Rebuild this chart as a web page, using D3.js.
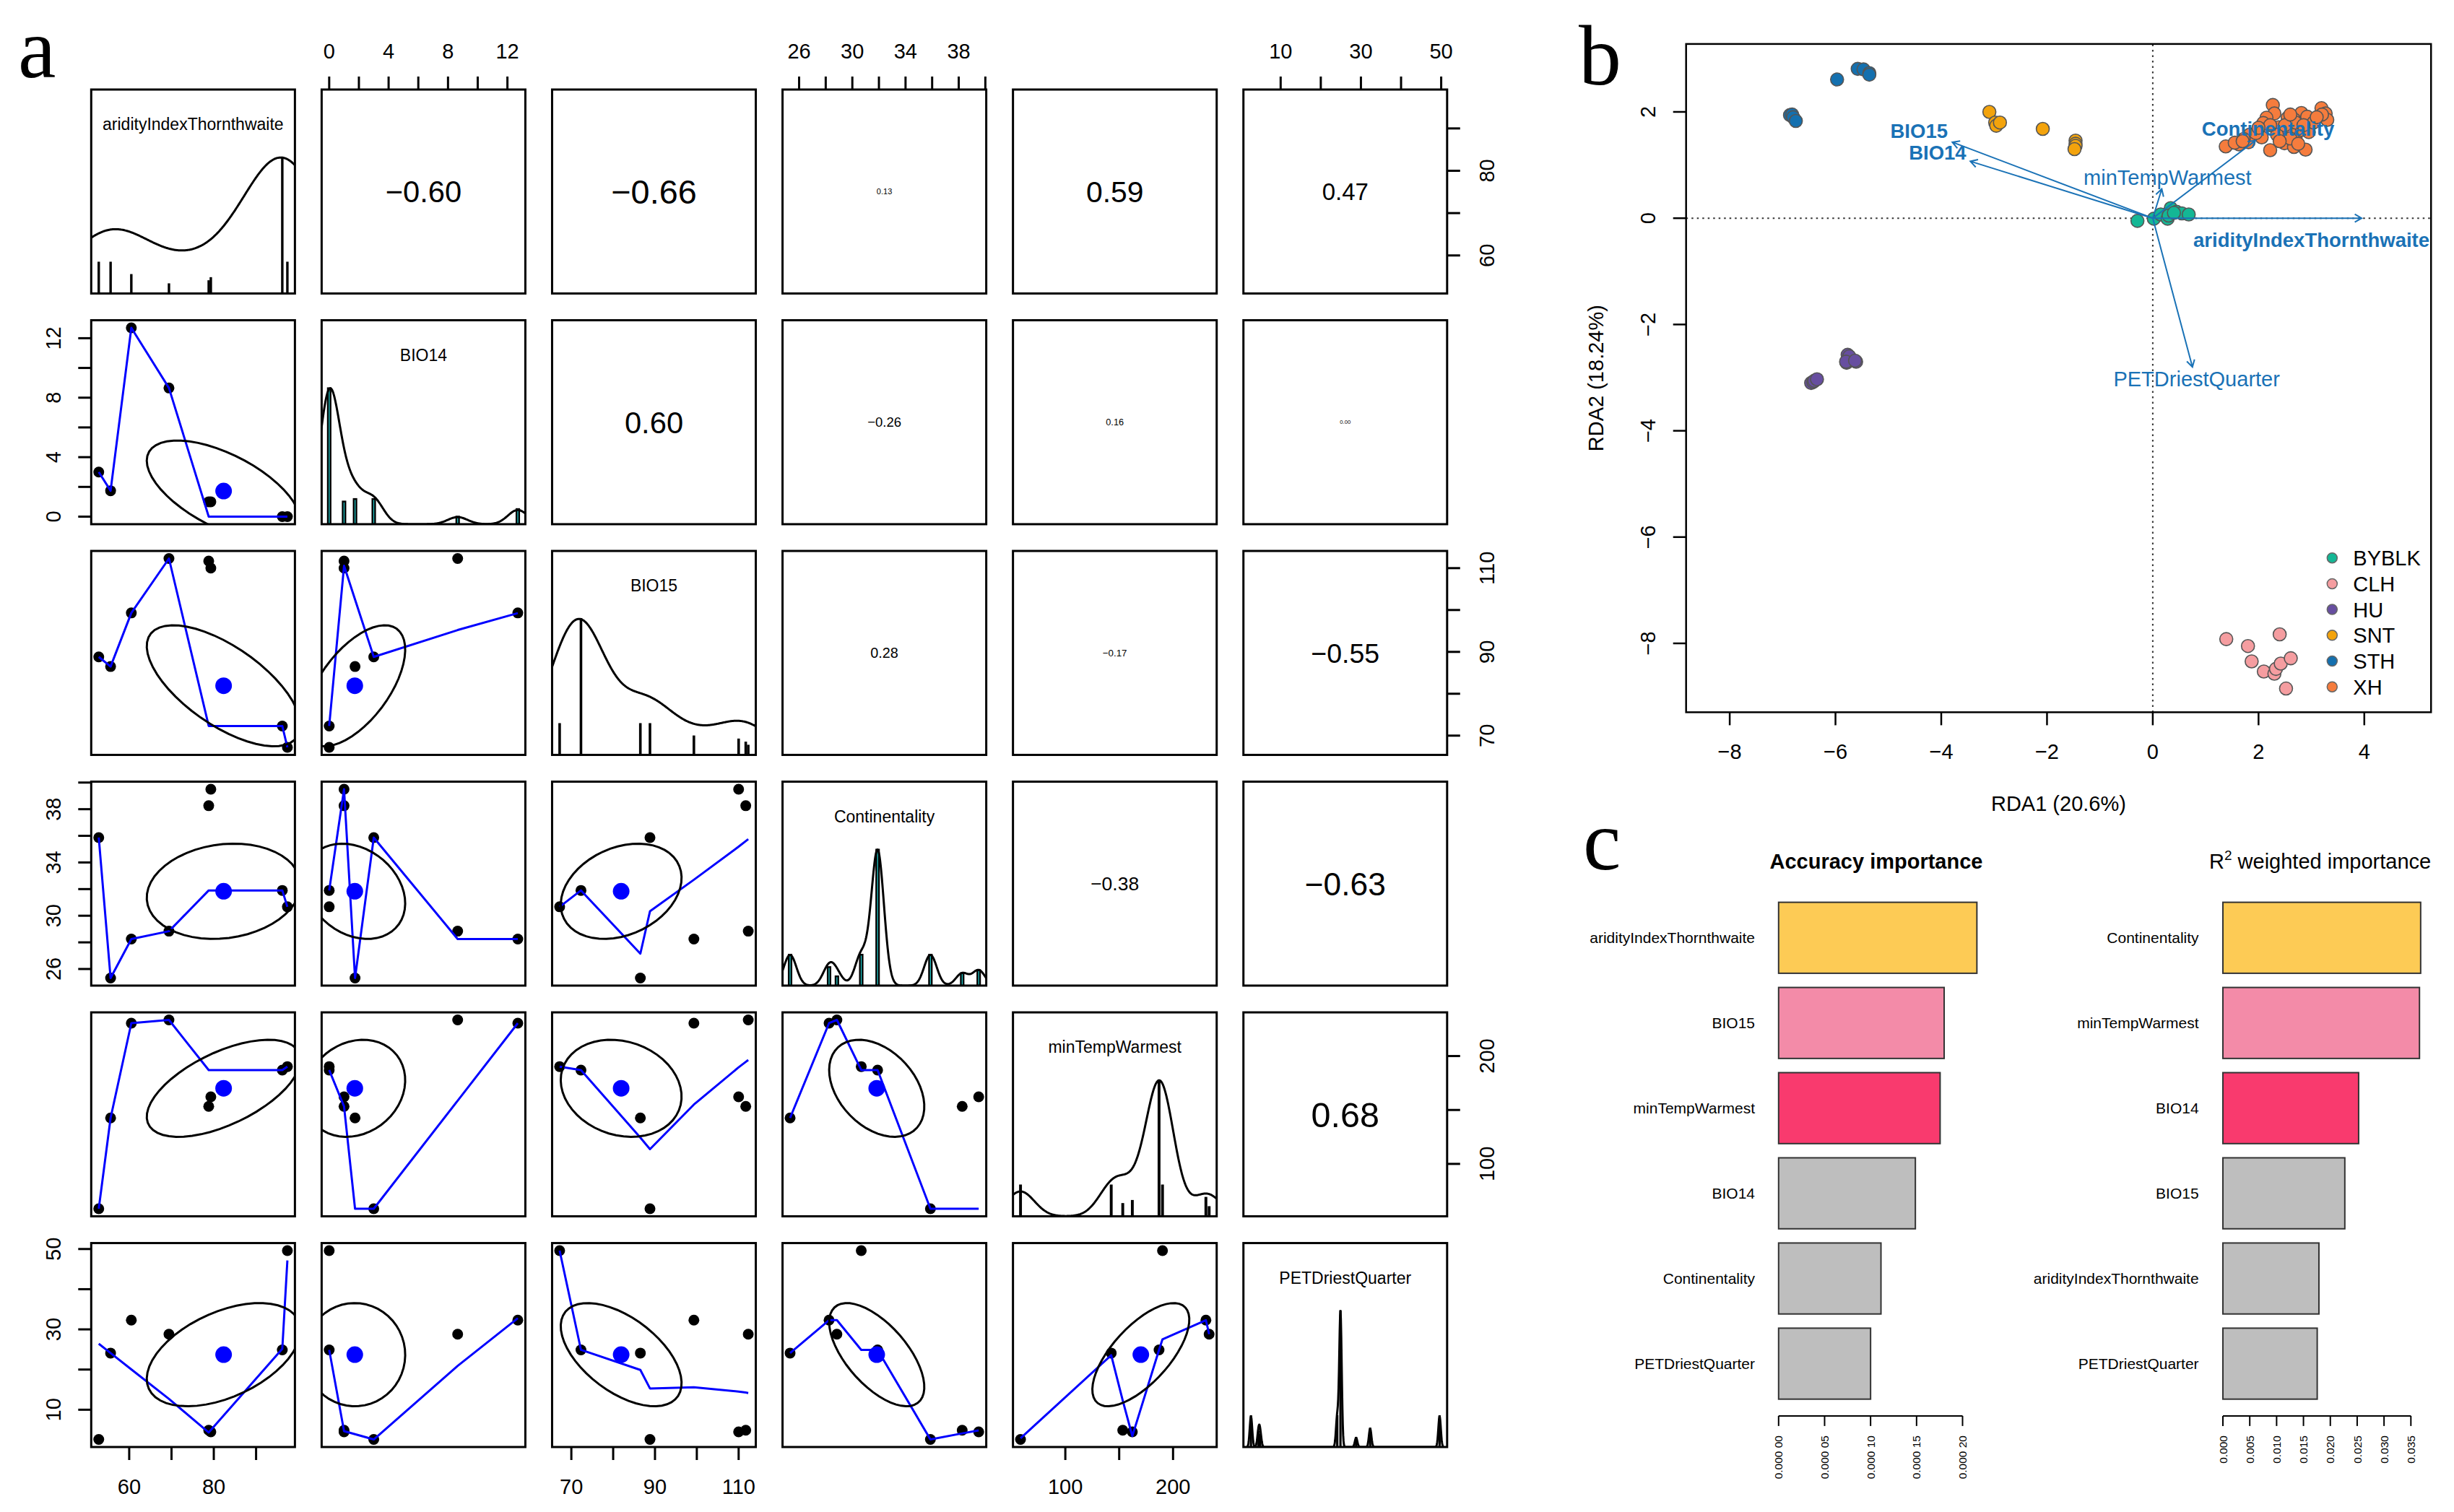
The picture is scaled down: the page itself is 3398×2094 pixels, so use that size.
<!DOCTYPE html>
<html><head><meta charset="utf-8">
<script src="https://cdn.jsdelivr.net/npm/d3@7"></script>
<style>
html,body{margin:0;padding:0;background:#fff;}
svg{display:block;}
text{font-family:"Liberation Sans",Arial,Helvetica,sans-serif;fill:#000;}
</style>
</head><body>
<svg id="fig" width="3398" height="2094"></svg>
<script>
// ================= DATA =================
// Panel a: environmental values of the 8 sampling sites and number of individuals per site
const siteIds = ["s1","s2","s3","s4","s5","s6","s7","s8"];
const siteCounts = [10, 10, 6, 3, 4, 5, 44, 10];
const aridityIndexThornthwaite = [52.8, 55.6, 60.5, 69.4, 78.8, 79.3, 96.2, 97.4];
const BIO14 = [3.0, 1.74, 12.7, 8.65, 1.0, 1.0, 0, 0];
const BIO15 = [88.8, 86.5, 99.3, 112.3, 111.7, 110.0, 72.3, 67.2];
const Continentality = [35.87, 25.32, 28.25, 28.84, 38.26, 39.5, 31.9, 30.67];
const minTempWarmest = [58.4, 142.6, 230.5, 233.5, 153.3, 162.2, 187.0, 190.2];
const PETDriestQuarter = [2.6, 24.1, 32.3, 28.8, 4.9, 4.5, 24.9, 49.6];
const varNames = ["aridityIndexThornthwaite","BIO14","BIO15","Continentality","minTempWarmest","PETDriestQuarter"];
// smoother of Continentality on BIO14 (per site)
const smoothReadBIO14Continentality = [35.87, 25.32, 28.25, 28.25, 39.5, 39.5, 31.9, 31.9];
// correlations shown in the upper panels (row, col, value)
const corRows = [0,0,0,0,0,1,1,1,1,2,2,2,3,3,4];
const corCols = [1,2,3,4,5,2,3,4,5,3,4,5,4,5,5];
const corValues = [-0.60,-0.66,0.13,0.59,0.47,0.60,-0.26,0.16,0.00,0.28,-0.17,-0.55,-0.38,-0.63,0.68];

// Panel b: RDA site scores per population
const popNames = ["BYBLK","CLH","HU","SNT","STH","XH"];
const popColors = ["#14B795","#F59DA0","#674EA0","#F3A30C","#1470AF","#F57C3D"];
const rdaBYBLK = [[-0.29,-0.05],[0.02,-0.01],[0.15,0.07],[0.28,-0.01],[0.34,0.19],[0.45,0.12],[0.55,0.09],[0.68,0.07],[0.30,0.05],[0.40,0.10]];
const rdaCLH = [[1.39,-7.92],[1.80,-8.05],[1.87,-8.34],[2.10,-8.53],[2.30,-8.57],[2.33,-8.48],[2.40,-7.83],[2.42,-8.38],[2.61,-8.28],[2.52,-8.85]];
const rdaHU = [[-6.46,-3.10],[-6.42,-3.08],[-6.40,-3.06],[-6.35,-3.03],[-5.77,-2.57],[-5.74,-2.60],[-5.79,-2.72],[-5.80,-2.70],[-5.61,-2.70],[-5.63,-2.68]];
const rdaSNT = [[-3.09,2.00],[-2.98,1.80],[-2.96,1.74],[-2.89,1.80],[-2.08,1.68],[-1.46,1.46],[-1.46,1.40],[-1.46,1.36],[-1.48,1.30]];
const rdaSTH = [[-6.86,1.94],[-6.82,1.95],[-6.80,1.90],[-6.75,1.83],[-5.97,2.61],[-5.58,2.81],[-5.47,2.80],[-5.36,2.73],[-5.36,2.70]];
const rdaXH = [[2.27,2.13],[2.30,1.97],[3.19,2.07],[3.27,1.97],[3.30,1.85],[2.81,1.98],[2.92,1.91],[2.67,1.86],[2.55,1.89],[2.15,1.89],
  [2.09,1.79],[2.05,1.64],[2.06,1.52],[1.83,1.57],[1.81,1.43],[1.63,1.39],[1.38,1.35],[1.72,1.49],[2.22,1.28],[2.38,1.71],
  [2.45,1.57],[2.49,1.41],[2.67,1.34],[2.89,1.29],[2.70,1.52],[2.81,1.66],[2.95,1.62],[3.04,1.80],[2.58,1.66],[2.35,1.57],
  [2.22,1.75],[2.70,1.80],[1.55,1.42],[1.95,1.60],[2.60,1.50],[2.40,1.45],[3.20,1.95],[2.85,1.75],[2.50,1.75],[2.00,1.70],
  [1.70,1.45],[2.75,1.40],[3.10,1.90],[2.60,1.95]];
// biplot arrows (end point) and label anchors
const arrowNames = ["aridityIndexThornthwaite","Continentality","minTempWarmest","PETDriestQuarter","BIO15","BIO14"];
const arrowEnds = [[3.95,0.0],[1.94,1.46],[0.17,0.55],[0.75,-2.80],[-3.79,1.43],[-3.45,1.07]];
const arrowLabelAt = [[3.0,-0.41],[2.18,1.68],[0.28,0.77],[0.83,-3.02],[-4.42,1.64],[-4.07,1.24]];
const arrowBold = [true,true,false,false,true,true];
const rdaXTicks = [-8,-6,-4,-2,0,2,4];
const rdaYTicks = [-8,-6,-4,-2,0,2];

// Panel c: importance barplots
const accVars = ["aridityIndexThornthwaite","BIO15","minTempWarmest","BIO14","Continentality","PETDriestQuarter"];
const accValues = [0.0002156, 0.0001800, 0.0001756, 0.0001487, 0.0001113, 0.0001000];
const r2Vars = ["Continentality","minTempWarmest","BIO14","BIO15","aridityIndexThornthwaite","PETDriestQuarter"];
const r2Values = [0.03682, 0.03660, 0.02527, 0.02270, 0.01788, 0.01756];
const barColors = ["#FDCB55","#F38BA8","#F93A6E","#BEBEBE","#BEBEBE","#BEBEBE"];
const accTicks = [0, 0.00005, 0.0001, 0.00015, 0.0002];
const accTickLabels = ["0.000 00","0.000 05","0.000 10","0.000 15","0.000 20"];
const r2Ticks = [0, 0.005, 0.010, 0.015, 0.020, 0.025, 0.030, 0.035];
const r2TickLabels = ["0.000","0.005","0.010","0.015","0.020","0.025","0.030","0.035"];

// ================= HELPERS =================
const svg = d3.select("#fig");
svg.append("rect").attr("width",3398).attr("height",2094).attr("fill","#fff");
const defs = svg.append("defs");
const MINUS = "\u2212";
const fmtNum = v => (v < 0 ? MINUS : "") + Math.abs(v);
const fcube = v => v*v*v, fsquare = v => v*v;

// R: density(x, bw = "nrd", adjust = 1.2)
function bwNrdAdj(v, adjust){
  const s = v.slice().sort(d3.ascending);
  const sd = d3.deviation(s);
  const h = (d3.quantileSorted(s,0.75) - d3.quantileSorted(s,0.25))/1.34;
  return adjust*1.06*Math.min(sd, h)*Math.pow(s.length,-0.2);
}
function lowest(x,y,n,xs,nleft,nright,w,userw,rw){
  const range = x[n-1]-x[0];
  const h = Math.max(xs-x[nleft], x[nright]-xs);
  const h9 = 0.999*h, h1 = 0.001*h;
  let a = 0, j = nleft;
  while (j < n){
    w[j] = 0;
    const r = Math.abs(x[j]-xs);
    if (r <= h9){
      if (r <= h1) w[j] = 1; else w[j] = fcube(1-fcube(r/h));
      if (userw) w[j] *= rw[j];
      a += w[j];
    } else if (x[j] > xs) break;
    j++;
  }
  const nrt = j-1;
  if (a <= 0) return null;
  for (j=nleft;j<=nrt;j++) w[j] /= a;
  if (h > 0){
    a = 0;
    for (j=nleft;j<=nrt;j++) a += w[j]*x[j];
    let b = xs - a, c = 0;
    for (j=nleft;j<=nrt;j++) c += w[j]*(x[j]-a)*(x[j]-a);
    if (Math.sqrt(c) > 0.001*range){
      b /= c;
      for (j=nleft;j<=nrt;j++) w[j] *= (b*(x[j]-a)+1);
    }
  }
  let ys = 0;
  for (j=nleft;j<=nrt;j++) ys += w[j]*y[j];
  return ys;
}
// port of R's clowess (stats::lowess)
function clowess(x,y,f,nsteps,delta){
  const n = x.length;
  const ys = new Array(n).fill(0), rw = new Array(n).fill(0), res = new Array(n).fill(0);
  const ns = Math.max(2, Math.min(n, Math.floor(f*n+1e-7)));
  let iter = 1;
  while (iter <= nsteps+1){
    let nleft = 0, nright = ns-1, last = -1, i = 0;
    for(;;){
      if (nright < n-1){
        const d1 = x[i]-x[nleft], d2 = x[nright+1]-x[i];
        if (d1 > d2){ nleft++; nright++; continue; }
      }
      const v = lowest(x,y,n,x[i],nleft,nright,res,iter>1,rw);
      ys[i] = (v === null) ? y[i] : v;
      if (last < i-1){
        const denom = x[i]-x[last];
        for (let j=last+1;j<i;j++){ const al=(x[j]-x[last])/denom; ys[j]=al*ys[i]+(1-al)*ys[last]; }
      }
      last = i;
      const cut = x[last]+delta;
      for (i=last+1;i<n;i++){
        if (x[i] > cut) break;
        if (x[i] === x[last]){ ys[i] = ys[last]; last = i; }
      }
      i = Math.max(last+1, i-1);
      if (last >= n-1) break;
    }
    for (let k=0;k<n;k++) res[k] = y[k]-ys[k];
    let sc = 0; for (let k=0;k<n;k++) sc += Math.abs(res[k]); sc /= n;
    if (iter > nsteps) break;
    const srt = res.map(Math.abs).sort((a,b)=>a-b);
    const m1 = Math.floor(n/2);
    const cmad = (n%2===0) ? 3*(srt[m1]+srt[n-m1-1]) : 6*srt[m1];
    if (cmad < 1e-7*sc) break;
    const c9 = 0.999*cmad, c1 = 0.001*cmad;
    for (let k=0;k<n;k++){
      const r = Math.abs(res[k]);
      rw[k] = r<=c1 ? 1 : (r<=c9 ? fsquare(1-fsquare(r/cmad)) : 0);
    }
    iter++;
  }
  return ys;
}

// ================= PANEL A =================
const siteValues = [aridityIndexThornthwaite, BIO14, BIO15, Continentality, minTempWarmest, PETDriestQuarter];
const readSmoothers = {"3-1": smoothReadBIO14Continentality};
const expand = arr => arr.flatMap((v,i)=>d3.range(siteCounts[i]).map(()=>v));
const indiv = siteValues.map(expand);
const domains = indiv.map(v=>{const e=d3.extent(v); const p=0.04*(e[1]-e[0]); return [e[0]-p,e[1]+p];});
const colBand = d3.scaleBand().domain(d3.range(6)).range([126.3,2003.8]).paddingInner(0.116);
const rowBand = d3.scaleBand().domain(d3.range(6)).range([124,2004]).paddingInner(0.116);
const pw = colBand.bandwidth(), ph = rowBand.bandwidth();
const LW = 3;
const gA = svg.append("g");
const corFont = d3.scaleLinear().domain([0,0.13,0.26,0.38,0.47,0.55,0.68]).range([7.7,11,18.5,26.5,33,37.5,48.5]);

for (let i=0;i<6;i++){
  for (let j=0;j<6;j++){
    const g = gA.append("g").attr("transform",`translate(${colBand(j)},${rowBand(i)})`);
    const cid = `clip_${i}_${j}`;
    defs.append("clipPath").attr("id",cid).append("rect").attr("width",pw).attr("height",ph);
    const inner = g.append("g").attr("clip-path",`url(#${cid})`);
    const xs = d3.scaleLinear().domain(domains[j]).range([0,pw]);
    const ys = d3.scaleLinear().domain(domains[i]).range([ph,0]);
    if (i === j){
      const v = indiv[i];
      const yd = d3.scaleLinear().domain([0,1.5]).range([ph,0]);
      const tab = d3.rollups(v, a=>a.length, d=>d).sort((a,b)=>a[0]-b[0]);
      const brk = tab.map(d=>d[0]);
      const maxC = d3.max(tab, d=>d[1]);
      const ib = d3.min(d3.pairs(brk), p=>p[1]-p[0])*(brk.length-1)/41;
      inner.selectAll("rect.bar").data(tab).join("rect")
        .attr("x",d=>xs(d[0]-ib)).attr("width",d=>Math.max(0.01,xs(d[0]+ib)-xs(d[0]-ib)))
        .attr("y",d=>yd(d[1]/maxC)).attr("height",d=>yd(0)-yd(d[1]/maxC))
        .attr("fill","#22C4C4").attr("stroke","#000").attr("stroke-width",2.4);
      const bw = bwNrdAdj(v, 1.2);
      const lo = d3.min(v)-3*bw, hi = d3.max(v)+3*bw;
      const grid = d3.range(512).map(k=>lo+(hi-lo)*k/511);
      const dens = grid.map(gx=>d3.sum(tab,d=>d[1]*Math.exp(-0.5*Math.pow((gx-d[0])/bw,2))));
      const dm = d3.max(dens);
      inner.append("path").attr("d",d3.line()(grid.map((gx,k)=>[xs(gx),yd(dens[k]/dm)])))
        .attr("fill","none").attr("stroke","#000").attr("stroke-width",LW).attr("stroke-linejoin","round");
      g.append("text").attr("x",pw/2).attr("y",56).attr("text-anchor","middle")
        .attr("font-size",23).text(varNames[i]);
    } else if (i < j){
      const k = corRows.findIndex((r,q)=>r===i && corCols[q]===j);
      const val = corValues[k];
      g.append("text").attr("x",pw/2).attr("y",ph/2).attr("dy","0.36em").attr("text-anchor","middle")
        .attr("font-size",corFont(Math.abs(val))).text((val<0?MINUS:"")+Math.abs(val).toFixed(2));
    } else {
      const X = indiv[j], Y = indiv[i];
      const xv = siteValues[j], yv = siteValues[i];
      inner.selectAll("circle.pt").data(d3.range(xv.length)).join("circle")
        .attr("cx",k=>xs(xv[k])).attr("cy",k=>ys(yv[k])).attr("r",7.5).attr("fill","#000");
      let smoothPts;
      const rd = readSmoothers[`${i}-${j}`];
      if (rd){
        smoothPts = d3.range(xv.length).sort((a,b)=>xv[a]-xv[b]).map(k=>[xs(xv[k]),ys(rd[k])]);
      } else {
        const ord = d3.range(X.length).sort((a,b)=>X[a]-X[b]);
        const sx = ord.map(k=>X[k]), sy = ord.map(k=>Y[k]);
        const fit = clowess(sx, sy, 2/3, 3, 0.01*(sx[sx.length-1]-sx[0]));
        smoothPts = sx.map((x,k)=>[xs(x),ys(fit[k])]);
      }
      inner.append("path").attr("d",d3.line()(smoothPts))
        .attr("fill","none").attr("stroke","#0000FF").attr("stroke-width",LW).attr("stroke-linejoin","round");
      const mx = d3.mean(X), my = d3.mean(Y), sdx = d3.deviation(X), sdy = d3.deviation(Y);
      let cov = 0; for (let k=0;k<X.length;k++) cov += (X[k]-mx)*(Y[k]-my);
      const r = cov/(X.length-1)/(sdx*sdy);
      const th = (r < 0 ? -1 : 1)/Math.SQRT2;
      const a1 = Math.sqrt(1+r)*th, a2 = Math.sqrt(1-r)*th;
      const ell = d3.range(52).map(s=>{const an=s*2*Math.PI/51, c=Math.cos(an), sn=Math.sin(an);
        return [xs((c*a1 - sn*a2)*sdx+mx), ys((c*a1 + sn*a2)*sdy+my)];});
      inner.append("circle").attr("cx",xs(mx)).attr("cy",ys(my)).attr("r",11.5).attr("fill","#0000FF");
      inner.append("path").attr("d",d3.line()(ell)).attr("fill","none").attr("stroke","#000").attr("stroke-width",LW);
    }
    g.append("rect").attr("width",pw).attr("height",ph).attr("fill","none").attr("stroke","#000").attr("stroke-width",LW);
  }
}
function axisTicks(k){ const d = domains[k]; return d3.ticks(d[0],d[1],5).filter(t=>t>=d[0]&&t<=d[1]); }
[1,3,5].forEach(j=>{
  const xs = d3.scaleLinear().domain(domains[j]).range([colBand(j),colBand(j)+pw]);
  const y0 = rowBand(0);
  axisTicks(j).forEach((t,q)=>{
    gA.append("line").attr("x1",xs(t)).attr("x2",xs(t)).attr("y1",y0).attr("y2",y0-18).attr("stroke","#000").attr("stroke-width",LW);
    if (q%2===0) gA.append("text").attr("x",xs(t)).attr("y",y0-53).attr("dy","0.36em").attr("text-anchor","middle").attr("font-size",29).text(fmtNum(t));
  });
});
[0,2,4].forEach(j=>{
  const xs = d3.scaleLinear().domain(domains[j]).range([colBand(j),colBand(j)+pw]);
  const y0 = rowBand(5)+ph;
  axisTicks(j).forEach((t,q)=>{
    gA.append("line").attr("x1",xs(t)).attr("x2",xs(t)).attr("y1",y0).attr("y2",y0+18).attr("stroke","#000").attr("stroke-width",LW);
    if (q%2===0) gA.append("text").attr("x",xs(t)).attr("y",y0+55).attr("dy","0.36em").attr("text-anchor","middle").attr("font-size",29).text(fmtNum(t));
  });
});
[1,3,5].forEach(i=>{
  const ys = d3.scaleLinear().domain(domains[i]).range([rowBand(i)+ph,rowBand(i)]);
  const x0 = colBand(0);
  axisTicks(i).forEach((t,q)=>{
    gA.append("line").attr("x1",x0).attr("x2",x0-18).attr("y1",ys(t)).attr("y2",ys(t)).attr("stroke","#000").attr("stroke-width",LW);
    if (q%2===0) gA.append("text").attr("transform",`translate(${x0-52.6},${ys(t)}) rotate(-90)`).attr("dy","0.36em").attr("text-anchor","middle").attr("font-size",29).text(fmtNum(t));
  });
});
[0,2,4].forEach(i=>{
  const ys = d3.scaleLinear().domain(domains[i]).range([rowBand(i)+ph,rowBand(i)]);
  const x0 = colBand(5)+pw;
  axisTicks(i).forEach((t,q)=>{
    gA.append("line").attr("x1",x0).attr("x2",x0+18).attr("y1",ys(t)).attr("y2",ys(t)).attr("stroke","#000").attr("stroke-width",LW);
    if (q%2===0) gA.append("text").attr("transform",`translate(${x0+55},${ys(t)}) rotate(-90)`).attr("dy","0.36em").attr("text-anchor","middle").attr("font-size",29).text(fmtNum(t));
  });
});

// ================= PANEL B =================
const gB = svg.append("g");
const bx = d3.scaleLinear().domain([-8.825,5.262]).range([2334.7,3366.2]);
const by = d3.scaleLinear().domain([-9.296,3.278]).range([986.4,60.9]);
const arrowCol = "#1A72B6";
gB.append("line").attr("x1",bx(0)).attr("x2",bx(0)).attr("y1",by.range()[0]).attr("y2",by.range()[1])
  .attr("stroke","#333").attr("stroke-width",2).attr("stroke-dasharray","2.5,5");
gB.append("line").attr("x1",bx.range()[0]).attr("x2",bx.range()[1]).attr("y1",by(0)).attr("y2",by(0))
  .attr("stroke","#333").attr("stroke-width",2).attr("stroke-dasharray","2.5,5");
const popPts = [rdaBYBLK, rdaCLH, rdaHU, rdaSNT, rdaSTH, rdaXH];
popPts.forEach((pts,p)=>{
  gB.append("g").selectAll("circle").data(pts).join("circle")
    .attr("cx",d=>bx(d[0])).attr("cy",d=>by(d[1])).attr("r",9)
    .attr("fill",popColors[p]).attr("stroke","#555").attr("stroke-width",1.6);
});
arrowEnds.forEach((e,k)=>{
  const x0=bx(0), y0=by(0), x1=bx(e[0]), y1=by(e[1]);
  const ang = Math.atan2(y1-y0, x1-x0), L=11, A=Math.PI/6;
  const p = d3.path();
  p.moveTo(x0,y0); p.lineTo(x1,y1);
  p.moveTo(x1-L*Math.cos(ang-A), y1-L*Math.sin(ang-A)); p.lineTo(x1,y1);
  p.lineTo(x1-L*Math.cos(ang+A), y1-L*Math.sin(ang+A));
  gB.append("path").attr("d",p.toString()).attr("fill","none").attr("stroke",arrowCol).attr("stroke-width",2);
});
arrowNames.forEach((nm,k)=>{
  gB.append("text").attr("x",bx(arrowLabelAt[k][0])).attr("y",by(arrowLabelAt[k][1])).attr("dy","0.36em")
    .attr("text-anchor","middle").attr("font-size",arrowBold[k]?27.5:29).attr("font-weight",arrowBold[k]?"bold":"normal")
    .style("fill",arrowCol).text(nm);
});
gB.append("rect").attr("x",bx.range()[0]).attr("y",by.range()[1]).attr("width",bx.range()[1]-bx.range()[0])
  .attr("height",by.range()[0]-by.range()[1]).attr("fill","none").attr("stroke","#000").attr("stroke-width",2.5);
rdaXTicks.forEach(t=>{
  gB.append("line").attr("x1",bx(t)).attr("x2",bx(t)).attr("y1",by.range()[0]).attr("y2",by.range()[0]+18).attr("stroke","#000").attr("stroke-width",2.5);
  gB.append("text").attr("x",bx(t)).attr("y",1041).attr("dy","0.36em").attr("text-anchor","middle").attr("font-size",29).text(fmtNum(t));
});
rdaYTicks.forEach(t=>{
  gB.append("line").attr("x1",bx.range()[0]).attr("x2",bx.range()[0]-18).attr("y1",by(t)).attr("y2",by(t)).attr("stroke","#000").attr("stroke-width",2.5);
  gB.append("text").attr("transform",`translate(2282,${by(t)}) rotate(-90)`).attr("dy","0.36em").attr("text-anchor","middle").attr("font-size",29).text(fmtNum(t));
});
gB.append("text").attr("x",(bx.range()[0]+bx.range()[1])/2).attr("y",1123).attr("text-anchor","middle").attr("font-size",29).text("RDA1 (20.6%)");
gB.append("text").attr("transform",`translate(2220,${(by.range()[0]+by.range()[1])/2}) rotate(-90)`).attr("text-anchor","middle").attr("font-size",29).text("RDA2 (18.24%)");
popNames.forEach((nm,k)=>{
  const yy = 772.7 + k*35.7;
  gB.append("circle").attr("cx",3229.3).attr("cy",yy).attr("r",7).attr("fill",popColors[k]).attr("stroke","#666").attr("stroke-width",1.5);
  gB.append("text").attr("x",3258.3).attr("y",yy).attr("dy","0.36em").attr("font-size",29).text(nm);
});

// ================= PANEL C =================
const gC = svg.append("g");
const bandY = d3.scaleBand().domain(d3.range(6)).range([1249.6,1937.7]).paddingInner(1/6);
function barPanel(vars, vals, xScale, ticks, tickLabels, labelRight, title, titleX, sup){
  vals.forEach((v,k)=>{
    gC.append("rect").attr("x",xScale(0)).attr("y",bandY(k)).attr("width",xScale(v)-xScale(0)).attr("height",bandY.bandwidth())
      .attr("fill",barColors[k]).attr("stroke","#333").attr("stroke-width",2);
    gC.append("text").attr("x",labelRight).attr("y",bandY(k)+bandY.bandwidth()/2).attr("dy","0.36em")
      .attr("text-anchor","end").attr("font-size",21).text(vars[k]);
  });
  const ya = 1960.9;
  gC.append("line").attr("x1",xScale(ticks[0])).attr("x2",xScale(ticks[ticks.length-1])).attr("y1",ya).attr("y2",ya).attr("stroke","#000").attr("stroke-width",2);
  ticks.forEach((t,q)=>{
    gC.append("line").attr("x1",xScale(t)).attr("x2",xScale(t)).attr("y1",ya).attr("y2",ya+14).attr("stroke","#000").attr("stroke-width",2);
    gC.append("text").attr("transform",`translate(${xScale(t)},1988) rotate(-90)`).attr("dy","0.36em")
      .attr("text-anchor","end").attr("font-size",15.5).text(tickLabels[q]);
  });
  const tt = gC.append("text").attr("x",titleX).attr("y",1203).attr("text-anchor","middle").attr("font-size",29);
  if (sup){
    tt.append("tspan").text("R");
    tt.append("tspan").attr("font-size",19).attr("dy",-12).text("2");
    tt.append("tspan").attr("dy",12).text(" weighted importance");
  } else {
    tt.attr("font-weight","bold").text(title);
  }
}
barPanel(accVars, accValues, d3.scaleLinear().domain([0,0.0002]).range([2462.8,2717.5]), accTicks, accTickLabels, 2430, "Accuracy importance", 2598, false);
barPanel(r2Vars, r2Values, d3.scaleLinear().domain([0,0.035]).range([3078,3338.3]), r2Ticks, r2TickLabels, 3044.6, "", 3212.6, true);

// panel letters
[["a",25,107],["b",2186,117],["c",2192,1204]].forEach(l=>{
  svg.append("text").attr("x",l[1]).attr("y",l[2]).attr("font-size",118)
    .style("font-family","'Liberation Serif','Times New Roman',serif").text(l[0]);
});
</script>
</body></html>
